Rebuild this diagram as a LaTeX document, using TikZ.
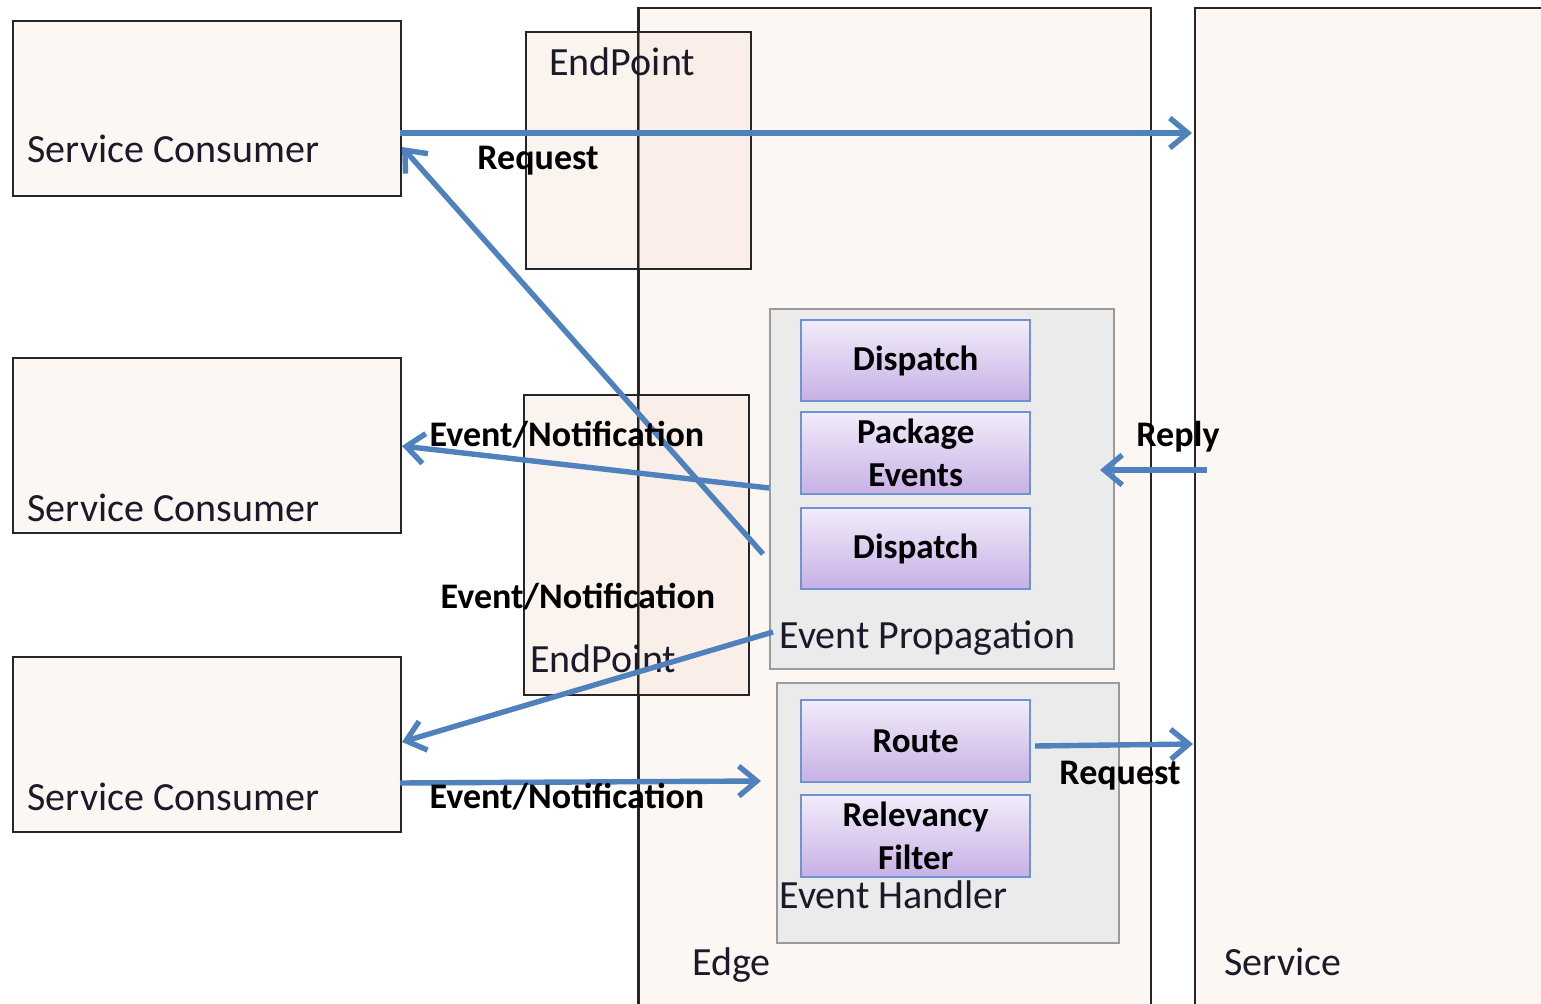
\documentclass[tikz,border=0pt]{standalone}
\usepackage{fontspec}
\setmainfont{Carlito}
\usetikzlibrary{arrows.meta}
\definecolor{boxfill}{HTML}{FDF7F3}
\definecolor{epfill}{HTML}{F8E9DF}
\definecolor{greyfill}{HTML}{EBEBEB}
\definecolor{greyline}{HTML}{9A9A9A}
\definecolor{arrowblue}{HTML}{4F81BD}
\definecolor{ptop}{HTML}{F2ECFA}
\definecolor{pbot}{HTML}{C7B0E5}
\definecolor{pline}{HTML}{6C93D3}
\definecolor{txt}{HTML}{1A1A2A}
\begin{document}
\begin{tikzpicture}[x=0.5pt,y=-0.5pt,
  frame/.style={draw=black!85, line width=1pt, fill=boxfill, inner sep=0pt, anchor=north west},
  epbox/.style={draw=black!85, line width=1pt, fill=epfill, fill opacity=0.5, inner sep=0pt, anchor=north west},
  edgeline/.style={draw=black!85, line width=1pt},
  greybox/.style={draw=greyline, line width=1pt, fill=greyfill, inner sep=0pt, anchor=north west},
  purplebox/.style={draw=pline, line width=1.2pt, top color=ptop, bottom color=pbot, inner sep=0pt, anchor=north west,
     minimum width=114.5pt, font=\fontsize{17.5}{21.5}\selectfont\bfseries, text=black, align=center},
  plain/.style={anchor=base west, inner sep=0pt, text=txt, font=\fontsize{20}{24}\selectfont},
  lbl/.style={anchor=base, inner sep=0pt, text=black, font=\fontsize{18}{21}\selectfont\bfseries},
  flow/.style={draw=arrowblue, line width=2.7pt, -{Straight Barb[length=9pt,width=15pt]}}
]
\useasboundingbox (0,0) rectangle (1541,1004);
\clip (0,0) rectangle (1541,1004);
\fill[white] (0,0) rectangle (1541,1004);

% outer boxes
\node[frame, minimum width=256pt, minimum height=505pt] (edge) at (638,7) {};
\node[frame, minimum width=180pt, minimum height=505pt] (service) at (1194,7) {};
\node[frame, minimum width=194pt, minimum height=87.5pt] (sc1) at (12,20) {};
\node[frame, minimum width=194pt, minimum height=87.5pt] (sc2) at (12,357) {};
\node[frame, minimum width=194pt, minimum height=87.5pt] (sc3) at (12,656) {};

% endpoints
\node[epbox, minimum width=112.5pt, minimum height=118.5pt] (ep1) at (525,31) {};
\node[epbox, minimum width=112.5pt, minimum height=150pt] (ep2) at (523,394) {};
\draw[edgeline] (edge.north west) -- (edge.south west);

% grey containers
\node[greybox, minimum width=172pt, minimum height=180pt] (evprop) at (769,308) {};
\node[greybox, minimum width=171pt, minimum height=130pt] (evhand) at (776,682) {};

% purple steps
\node[purplebox, minimum height=40.5pt] (disp1) at (800,319) {Dispatch};
\node[purplebox, minimum height=41pt] (pkg) at (800,411) {Package\\Events};
\node[purplebox, minimum height=40.5pt] (disp2) at (800,507) {Dispatch};
\node[purplebox, minimum height=41pt] (route) at (800,699) {Route};
\node[purplebox, minimum height=41pt] (relev) at (800,794) {Relevancy\\Filter};

% texts
\node[plain] (sc1t) at (27,163) {Service Consumer};
\node[plain] (sc2t) at (27,522) {Service Consumer};
\node[plain] (sc3t) at (27,810) {Service Consumer};
\node[plain] (ep1t) at (549,76) {EndPoint};
\node[plain] (ep2t) at (530,673) {EndPoint};
\node[plain] (evpropt) at (779,649) {Event Propagation};
\node[plain] (evhandt) at (779,908) {Event Handler};
\node[plain] (edget) at (692,975) {Edge};
\node[plain] (servicet) at (1224,975) {Service};

% connector ends
\coordinate (a1s) at (400,133);
\coordinate (a1e) at (1192,133);
\coordinate (a2s) at (763,554);
\coordinate (a2e) at (402,147);
\coordinate (a3s) at (769,488);
\coordinate (a3e) at (402,446);
\coordinate (a4s) at (773,632);
\coordinate (a4e) at (402,742);
\coordinate (a5s) at (400,783);
\coordinate (a5e) at (761,781);
\coordinate (a6s) at (1207,470);
\coordinate (a6e) at (1100,470);
\coordinate (a7s) at (1035,746);
\coordinate (a7e) at (1193,744);

\draw[flow] (a1s) -- (a1e);
\draw[flow] (a2s) -- (a2e);
\draw[flow] (a3s) -- (a3e);
\draw[flow] (a4s) -- (a4e);
\draw[flow] (a5s) -- (a5e);
\draw[flow] (a6s) -- (a6e);
\draw[flow] (a7s) -- (a7e);

% arrow labels
\node[lbl] (l1) at (538,170) {Request};
\node[lbl] (l3) at (567,447) {Event/Notification};
\node[lbl] (l4) at (578,609) {Event/Notification};
\node[lbl] (l5) at (567,808) {Event/Notification};
\node[lbl] (l6) at (1178,447) {Reply};
\node[lbl] (l7) at (1120,784) {Request};
\end{tikzpicture}
\end{document}
